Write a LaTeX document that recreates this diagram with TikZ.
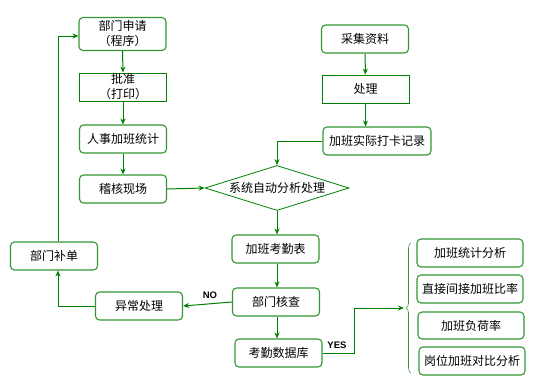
\documentclass[tikz,border=0pt]{standalone}
\usepackage{fontspec}
\setmainfont{Noto Sans CJK SC}
\newfontfamily\labelfont{Liberation Sans}
\usetikzlibrary{shapes.geometric,decorations.pathreplacing,arrows.meta}
\definecolor{linegreen}{RGB}{0,128,0}
\definecolor{boxgreen}{RGB}{50,150,50}
\tikzset{
  box/.style={draw=boxgreen,line width=1.1pt,rounded corners=4pt,minimum width=87pt,
    minimum height=28pt,inner sep=0pt,align=center,font=\fontsize{12}{15}\selectfont},
  sqbox/.style={box,sharp corners,draw=linegreen,line width=.8pt},
  flow/.style={linegreen,line width=1pt,->},
  yesno/.style={text=black,font=\labelfont\bfseries\fontsize{9.5}{10}\selectfont}
}
\begin{document}
\begin{tikzpicture}[x=1pt,y=-1pt,>={Stealth[length=6pt,width=5pt]}]
 \useasboundingbox (0,0) rectangle (541,388);
 % left column
 \node[box,minimum height=33pt] (apply) at (122.5,34) {部门申请\\（程序）};
 \node[sqbox] (approve) at (123,87) {批准\\（打印）};
 \node[box] (hr) at (123,139) {人事加班统计};
 \node[box] (audit) at (123,189) {稽核现场};
 % upper right column
 \node[box] (collect) at (365,39) {采集资料};
 \node[sqbox] (proc) at (365.5,89) {处理};
 \node[box,minimum width=108pt] (record) at (377,141) {加班实际打卡记录};
 % centre
 \node[draw=linegreen,line width=.8pt,diamond,aspect=3.2,minimum width=144pt,minimum height=45pt,
   inner sep=0pt,font=\fontsize{12}{15}\selectfont] (sys) at (277,188) {系统自动分析处理};
 \node[box] (table) at (275.5,249) {加班考勤表};
 \node[box] (check) at (276,302) {部门核查};
 \node[box] (db) at (278.5,353) {考勤数据库};
 \node[box] (abn) at (139,306) {异常处理};
 \node[box] (supp) at (54,256) {部门补单};
 % results
 \node[box,minimum width=106pt] (r1) at (470,253) {加班统计分析};
 \node[box,minimum width=106pt] (r2) at (470,289) {直接间接加班比率};
 \node[box,minimum width=106pt,minimum height=27pt] (r3) at (471,325.5) {加班负荷率};
 \node[box,minimum width=106pt] (r4) at (472,361) {岗位加班对比分析};
 \draw[boxgreen,line width=.6pt,decorate,decoration={brace,amplitude=5pt}] (411,373) -- (411,243);
 \coordinate (bracetip) at (404,308);
 % connectors
 \draw[flow] (apply.south) -- (approve.north);
 \draw[flow] (approve) -- (hr);
 \draw[flow] (hr) -- (audit);
 \draw[flow] (audit.east) -- (sys.west);
 \draw[flow] (collect) -- (proc);
 \draw[flow] (proc) -- (proc |- record.north);
 \draw[flow] (record.west) -| (sys.north);
 \draw[flow] (sys.south) -- (sys.south |- table.north);
 \draw[flow] (sys.south |- table.south) -- (sys.south |- check.north);
 \draw[flow] (sys.south |- check.south) -- (sys.south |- db.north);
 \draw[flow] (check.west) -- (abn.east) node[yesno,pos=.45,above=1pt] {NO};
 \draw[flow] (abn.west) -| ([xshift=4pt]supp.south);
 \draw[flow] ([xshift=4pt]supp.north) |- ([yshift=-2pt]apply.west);
 \draw[flow] (db.east) -- ++(32,0) node[yesno,pos=.45,above=1pt] {YES} |- (bracetip);
\end{tikzpicture}
\end{document}
